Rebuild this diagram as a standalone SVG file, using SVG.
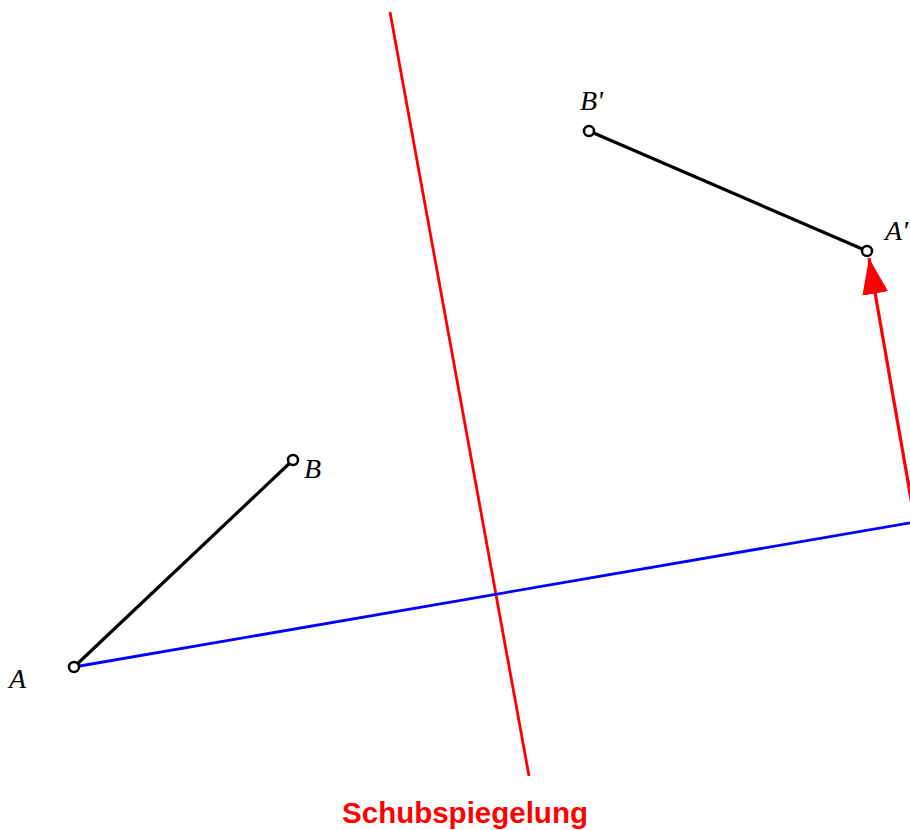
<svg xmlns="http://www.w3.org/2000/svg" width="910" height="830" viewBox="0 0 910 830">
<defs>
<style>
.lbl{font-family:"Liberation Serif","Times New Roman",serif;font-style:italic;font-size:28px;fill:#000}
.pt{fill:#fff;stroke:#000;stroke-width:2.5}
.seg{stroke:#000;stroke-width:3.2;fill:none}
</style>
<marker id="ahr" viewBox="0 0 36 26" refX="36" refY="13" markerWidth="36" markerHeight="26" markerUnits="userSpaceOnUse" orient="auto">
<path d="M0,0 L36,13 L0,26 Z" fill="#f00"/>
</marker>
</defs>
<rect width="910" height="830" fill="#fff"/>
<g id="connectors">
<line id="mirror-axis" x1="390" y1="12" x2="529" y2="776" stroke="#f00" stroke-width="2.8"/>
<line id="blue-line" x1="74" y1="667" x2="915" y2="522" stroke="#00f" stroke-width="2.8"/>
<line id="shift-arrow" x1="915" y1="522" x2="869" y2="258" stroke="#f00" stroke-width="3.2" marker-end="url(#ahr)"/>
<line id="AB" class="seg" x1="74" y1="667" x2="293" y2="460"/>
<line id="ApBp" class="seg" x1="589" y1="131" x2="867" y2="251"/>
</g>
<g id="node-A"><circle class="pt" cx="74" cy="667" r="5"/><text class="lbl" x="9" y="688">A</text></g>
<g id="node-B"><circle class="pt" cx="293" cy="460" r="5"/><text class="lbl" x="304" y="478">B</text></g>
<g id="node-Bp"><circle class="pt" cx="589" cy="131" r="5"/><text class="lbl" x="580" y="110">B'</text></g>
<g id="node-Ap"><circle class="pt" cx="867" cy="251" r="5"/><text class="lbl" x="885" y="240">A'</text></g>
<g id="title"><text x="465" y="823" text-anchor="middle" font-family="Liberation Sans, Arial, sans-serif" font-weight="bold" font-size="29.5" fill="#f00">Schubspiegelung</text></g>
</svg>
